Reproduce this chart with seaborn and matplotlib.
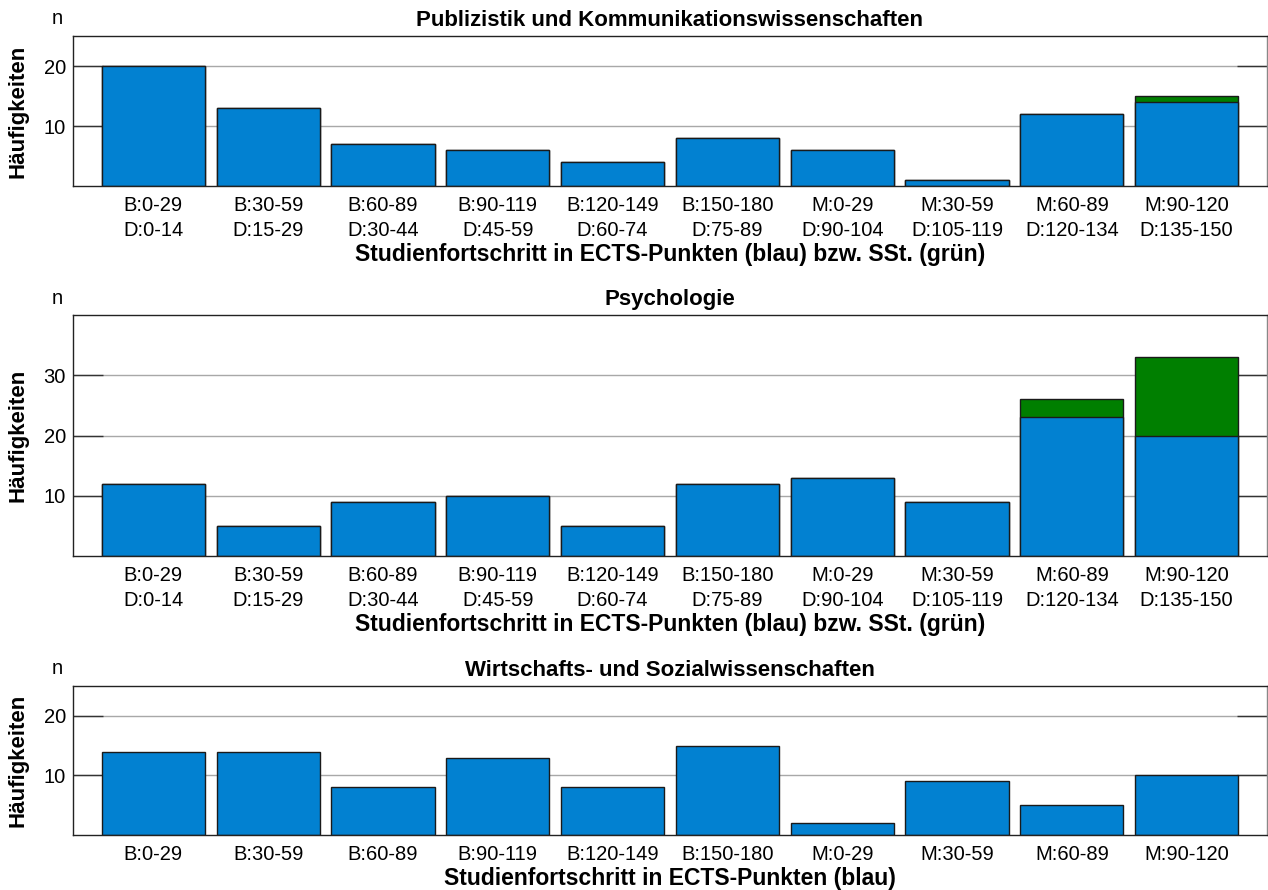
import matplotlib
matplotlib.use("Agg")
import matplotlib.pyplot as plt
import seaborn as sns
import pandas as pd

sns.set_theme(style="white")
plt.rcParams['font.family'] = ['Liberation Sans', 'DejaVu Sans']
plt.rcParams.update({"text.color": "black", "axes.labelcolor": "black",
                     "xtick.color": "black", "ytick.color": "black"})

# ---- data ----
cats_bd = ["B:0-29\nD:0-14", "B:30-59\nD:15-29", "B:60-89\nD:30-44", "B:90-119\nD:45-59",
           "B:120-149\nD:60-74", "B:150-180\nD:75-89", "M:0-29\nD:90-104", "M:30-59\nD:105-119",
           "M:60-89\nD:120-134", "M:90-120\nD:135-150"]
cats_b = ["B:0-29", "B:30-59", "B:60-89", "B:90-119", "B:120-149", "B:150-180",
          "M:0-29", "M:30-59", "M:60-89", "M:90-120"]

pub_blue = [20, 13, 7, 6, 4, 8, 6, 1, 12, 14]
pub_green = [0, 0, 0, 0, 0, 0, 0, 0, 0, 1]

psy_blue = [12, 5, 9, 10, 5, 12, 13, 9, 23, 20]
psy_green = [0, 0, 0, 0, 0, 0, 0, 0, 3, 13]

wis_blue = [14, 14, 8, 13, 8, 15, 2, 9, 5, 10]

titles = ["Publizistik und Kommunikationswissenschaften", "Psychologie",
          "Wirtschafts- und Sozialwissenschaften"]
xlabels = ["Studienfortschritt in ECTS-Punkten (blau) bzw. SSt. (grün)",
           "Studienfortschritt in ECTS-Punkten (blau) bzw. SSt. (grün)",
           "Studienfortschritt in ECTS-Punkten (blau)"]
ylims = [25, 40, 25]
yticks = [[10, 20], [10, 20, 30], [10, 20]]

BLUE = "#0281D1"
GREEN = "#007F00"
EDGE = "#1a1a1a"

W, H = 1268, 890
fig = plt.figure(figsize=(W / 100, H / 100), dpi=100)

# axes boxes in pixel coords (top, bottom)
boxes = [(36, 186), (315, 556), (686, 835)]
left_px, right_px = 73, 1267

panels = [
    (cats_bd, pub_blue, pub_green),
    (cats_bd, psy_blue, psy_green),
    (cats_b, wis_blue, None),
]

for i, ((top, bot), (cats, blue, green)) in enumerate(zip(boxes, panels)):
    ax = fig.add_axes([left_px / W, 1 - bot / H, (right_px - left_px) / W, (bot - top) / H])
    ax.set_axisbelow(True)
    if green is not None:
        total = [b + g for b, g in zip(blue, green)]
        df_t = pd.DataFrame({"cat": cats, "n": total})
        sns.barplot(data=df_t, x="cat", y="n", color=GREEN, saturation=1, width=0.9,
                    edgecolor=EDGE, linewidth=1, ax=ax, order=cats)
    df_b = pd.DataFrame({"cat": cats, "n": blue})
    sns.barplot(data=df_b, x="cat", y="n", color=BLUE, saturation=1, width=0.9,
                edgecolor=EDGE, linewidth=1, ax=ax, order=cats)

    ax.set_xlim(-0.7, 9.7)
    ax.set_ylim(0, ylims[i])
    ax.set_yticks(yticks[i])
    ax.yaxis.grid(True, color="#a8a8a8", linewidth=1)
    ax.xaxis.grid(False)
    ax.tick_params(axis="y", direction="in", length=21.5, width=1, color="#333333",
                   left=True, right=True, labelsize=14.5, pad=5)
    ax.tick_params(axis="x", length=0, labelsize=14.5, pad=7)
    for t in ax.get_xticklabels():
        t.set_linespacing(1.42)
    for s in ax.spines.values():
        s.set_color("#222222")
        s.set_linewidth(1)
    ax.spines["right"].set_color("#888888")

    ax.set_title(titles[i], fontsize=16, fontweight="bold", pad=7.5)
    ax.set_xlabel(xlabels[i], fontsize=16.5, fontweight="bold", labelpad=2.5)
    ax.set_ylabel("Häufigkeiten", fontsize=16, fontweight="bold")
    ax.yaxis.set_label_coords(-44 / (right_px - left_px), 0.5)
    ax.text(-16 / (right_px - left_px), 1 + 17 / (bot - top), "n", transform=ax.transAxes,
            ha="center", va="center", fontsize=14.5)

fig.savefig("out.png", dpi=100)
